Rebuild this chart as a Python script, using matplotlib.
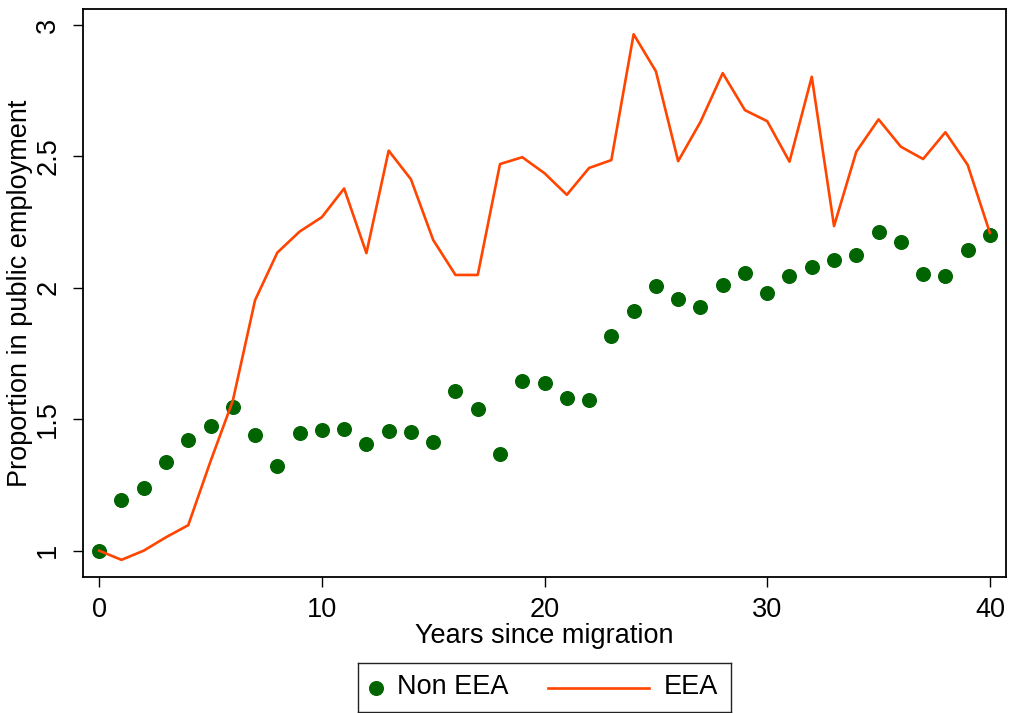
import matplotlib
matplotlib.use("Agg")
import matplotlib.pyplot as plt
from matplotlib.lines import Line2D

plt.rcParams['font.family'] = ['Liberation Sans', 'DejaVu Sans']

# Years since migration
years = list(range(0, 41))

# Non EEA migrants: proportion in public employment (relative to year 0)
non_eea = [1.000, 1.192, 1.239, 1.339, 1.421, 1.474, 1.547, 1.440, 1.322, 1.449,
           1.458, 1.462, 1.406, 1.454, 1.452, 1.415, 1.607, 1.538, 1.367, 1.647,
           1.638, 1.580, 1.575, 1.817, 1.912, 2.007, 1.958, 1.927, 2.011, 2.057,
           1.981, 2.044, 2.080, 2.107, 2.125, 2.211, 2.175, 2.053, 2.045, 2.145,
           2.200]

# EEA migrants
eea = [1.000, 0.965, 1.000, 1.051, 1.097, 1.340, 1.570, 1.953, 2.134, 2.214,
       2.269, 2.378, 2.132, 2.522, 2.413, 2.182, 2.049, 2.049, 2.471, 2.497,
       2.436, 2.354, 2.456, 2.486, 2.965, 2.824, 2.482, 2.631, 2.817, 2.676,
       2.634, 2.480, 2.803, 2.235, 2.518, 2.641, 2.537, 2.490, 2.592, 2.468,
       2.209]

x_ticks = [0, 10, 20, 30, 40]
y_ticks = [1, 1.5, 2, 2.5, 3]
y_tick_labels = ['1', '1.5', '2', '2.5', '3']
series_labels = ['Non EEA', 'EEA']

GREEN = '#006400'
ORANGE = '#ff4500'
FS = 19.5

fig = plt.figure(figsize=(10.11, 7.13), dpi=100)
ax = fig.add_axes([0.0818, 0.1912, 0.9132, 0.7962])

ax.plot(years, non_eea, linestyle='none', marker='o', markersize=9.8,
        color=GREEN, zorder=3)
ax.plot(years, eea, color=ORANGE, linewidth=1.9, zorder=4)

ax.set_xlim(-0.74, 40.72)
ax.set_ylim(0.901, 3.061)

ax.set_xticks(x_ticks)
ax.set_yticks(y_ticks)
ax.set_yticklabels(y_tick_labels, rotation=90, va='center')
ax.tick_params(axis='both', direction='out', length=7.5, width=1.0,
               labelsize=FS, color='black')
ax.tick_params(axis='x', pad=7)
ax.tick_params(axis='y', pad=8)

for sp in ax.spines.values():
    sp.set_linewidth(1.3)
    sp.set_color('black')

ax.set_xlabel('Years since migration', fontsize=FS, labelpad=0)
ax.set_ylabel('Proportion in public employment', fontsize=FS, labelpad=1.5)

# Legend drawn in its own framed box below the plot
lax = fig.add_axes([358 / 1011, 1 - 712 / 713, 373 / 1011, 49 / 713])
lax.set_xlim(0, 1)
lax.set_ylim(0, 1)
lax.set_xticks([])
lax.set_yticks([])
for sp in lax.spines.values():
    sp.set_linewidth(1.0)
    sp.set_color('#222222')

lax.add_line(Line2D([0.048], [0.5], linestyle='none', marker='o',
                    markersize=9.8, color=GREEN))
lax.text(0.104, 0.5, series_labels[0], fontsize=FS, va='center', ha='left')
lax.add_line(Line2D([0.509, 0.780], [0.5, 0.5], color=ORANGE, linewidth=1.9))
lax.text(0.820, 0.5, series_labels[1], fontsize=FS, va='center', ha='left')

fig.savefig('out.png', dpi=100)
